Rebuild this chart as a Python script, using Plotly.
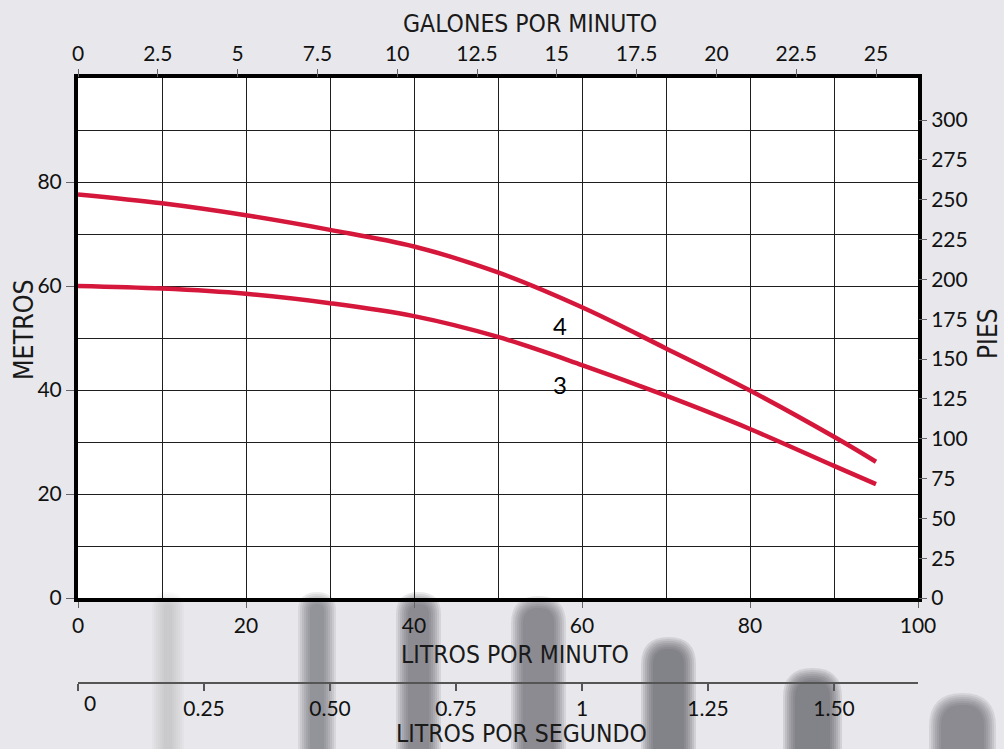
import plotly.graph_objects as go

# ---- data ----
lpm = [0, 10, 20, 30, 40, 50, 60, 70, 80, 90, 95]
curve_4 = [77.6, 75.9, 73.6, 70.8, 67.6, 62.6, 55.9, 48.0, 39.9, 31.0, 26.2]
curve_3 = [60.0, 59.5, 58.5, 56.7, 54.2, 50.2, 44.8, 38.9, 32.5, 25.4, 21.9]
curve_names = ["4", "3"]

lpm_ticks = [0, 20, 40, 60, 80, 100]
metros_ticks = [0, 20, 40, 60, 80]
gpm_ticks = [0, 2.5, 5, 7.5, 10, 12.5, 15, 17.5, 20, 22.5, 25]
gpm_labels = ["0", "2.5", "5", "7.5", "10", "12.5", "15", "17.5", "20", "22.5", "25"]
pies_ticks = [0, 25, 50, 75, 100, 125, 150, 175, 200, 225, 250, 275, 300]
lps_ticks = [0, 0.25, 0.5, 0.75, 1, 1.25, 1.5]
lps_labels = ["", "0.25", "0.50", "0.75", "1", "1.25", "1.50"]

# ---- geometry helpers (pixel -> paper) ----
W, H = 1004, 749
ML, MR, MT, MB = 78, 86, 78, 66
PW = W - ML - MR
PH = H - MT - MB
PLOT_BOTTOM = 598


def px(x):
    return (x - ML) / PW


def py(y):
    return (H - MB - y) / PH


TICKFONT = dict(family="Lato, Open Sans, sans-serif", size=21, color="#111")
TF = "DejaVu Sans Condensed, Liberation Sans Narrow, Liberation Sans, sans-serif"
RED = "#d5173b"
GRID = "#1e1e1e"

fig = go.Figure()
for name, vals in zip(curve_names, [curve_4, curve_3]):
    fig.add_trace(go.Scatter(x=lpm, y=vals, mode="lines", name=name,
                             line=dict(color=RED, width=4.5, shape="spline", smoothing=1.0),
                             hoverinfo="skip", showlegend=False))

# invisible traces to activate secondary axes
fig.add_trace(go.Scatter(x=[0], y=[0], xaxis="x2", yaxis="y2", mode="markers",
                         marker=dict(opacity=0), hoverinfo="skip", showlegend=False))
fig.add_trace(go.Scatter(x=[0], y=[0], xaxis="x3", yaxis="y", mode="markers",
                         marker=dict(opacity=0), hoverinfo="skip", showlegend=False))

ydom0 = (H - MB - PLOT_BOTTOM) / PH

fig.update_layout(
    width=W, height=H,
    margin=dict(l=ML, r=MR, t=MT, b=MB, pad=0),
    paper_bgcolor="#e8e8ec",
    plot_bgcolor="white",
    showlegend=False,
    xaxis=dict(range=[0, 100], domain=[0, 1], anchor="y",
               tickvals=lpm_ticks, ticks="outside", ticklen=6, tickcolor="#666", tickwidth=1,
               showline=True, linewidth=4, linecolor="black", mirror=True,
               showgrid=True, gridcolor=GRID, gridwidth=1.2,
               minor=dict(dtick=10, tick0=0, showgrid=True, gridcolor=GRID, gridwidth=1.2, ticks=""),
               zeroline=False, tickfont=TICKFONT, fixedrange=True),
    yaxis=dict(range=[0, 100], domain=[ydom0, 1], anchor="x",
               tickvals=metros_ticks, ticks="outside", ticklen=8, tickcolor="#666", tickwidth=1,
               showline=True, linewidth=4, linecolor="black", mirror=True,
               showgrid=True, gridcolor=GRID, gridwidth=1.2,
               minor=dict(dtick=10, tick0=0, showgrid=True, gridcolor=GRID, gridwidth=1.2, ticks=""),
               zeroline=False, tickfont=TICKFONT, fixedrange=True),
    xaxis2=dict(overlaying="x", side="top", anchor="y", range=[0, 25 / 0.95],
                tickvals=gpm_ticks, ticktext=gpm_labels, ticks="outside", ticklen=8,
                tickcolor="#666", tickwidth=1, showgrid=False, showline=False, zeroline=False,
                tickfont=TICKFONT, fixedrange=True),
    yaxis2=dict(overlaying="y", side="right", anchor="x", range=[0, 326.4],
                tickvals=pies_ticks, ticks="outside", ticklen=8, tickcolor="#666", tickwidth=1,
                showgrid=False, showline=False, zeroline=False, tickfont=TICKFONT, fixedrange=True),
    xaxis3=dict(overlaying="x", anchor="free", position=0, side="bottom",
                range=[0, 100 / 60], tickvals=lps_ticks, ticktext=lps_labels,
                ticks="outside", ticklen=7, tickcolor="#555", tickwidth=1.5,
                showline=True, linewidth=2, linecolor="#555", showgrid=False, zeroline=False,
                tickfont=TICKFONT, fixedrange=True),
)

ann = []


def add_text(text, x, y, font, angle=0):
    ann.append(dict(text=text, x=px(x), y=py(y), xref="paper", yref="paper",
                    xanchor="center", yanchor="middle", showarrow=False, font=font,
                    textangle=angle))


add_text("GALONES POR MINUTO", 530, 23, dict(family=TF, size=24.5, color="#1a1a1a"))
add_text("LITROS POR MINUTO", 515, 654, dict(family=TF, size=24.5, color="#1a1a1a"))
add_text("LITROS POR SEGUNDO", 521, 733, dict(family=TF, size=24.5, color="#1a1a1a"))
add_text("METROS", 23, 330, dict(family=TF, size=26.5, color="#1a1a1a"), -90)
add_text("PIES", 988, 333, dict(family=TF, size=26, color="#1a1a1a"), -90)
add_text("0", 90, 703, TICKFONT)

# curve labels in data coordinates
lab_font = dict(family="Lato, Open Sans, sans-serif", size=24, color="black")
for name, xv, yv in [(curve_names[0], 57.4, 52.5), (curve_names[1], 57.4, 41.0)]:
    ann.append(dict(text=name, x=xv, y=yv, xref="x", yref="y", showarrow=False,
                    font=lab_font, xanchor="center", yanchor="middle"))
fig.update_layout(annotations=ann)

# decorative blurred streaks from the background photo
streaks = [(160, 176, 600, 0.12), (306, 328, 600, 0.42), (404, 433, 600, 0.5),
           (519, 558, 604, 0.5), (649, 688, 645, 0.56), (791, 834, 676, 0.56),
           (937, 988, 701, 0.5)]
shapes = []
for xl, xr, yt, op in streaks:
    for grow in [8, 6, 4, 2, 0, -2, -4]:
        a, b, t = xl - grow, xr + grow, yt - grow
        if b - a < 4:
            continue
        r = (b - a) / 2
        path = (f"M {px(a)},{py(H + 5)} L {px(a)},{py(t + r)} "
                f"Q {px(a)},{py(t)} {px((a + b) / 2)},{py(t)} "
                f"Q {px(b)},{py(t)} {px(b)},{py(t + r)} L {px(b)},{py(H + 5)} Z")
        shapes.append(dict(type="path", path=path, xref="paper", yref="paper",
                           fillcolor="#55555a", opacity=op * 0.26, line=dict(width=0),
                           layer="below"))
fig.update_layout(shapes=shapes)

fig.write_html("out.html", config={"displayModeBar": False},
               post_script="document.body.style.margin='0';document.body.style.overflow='hidden';")
